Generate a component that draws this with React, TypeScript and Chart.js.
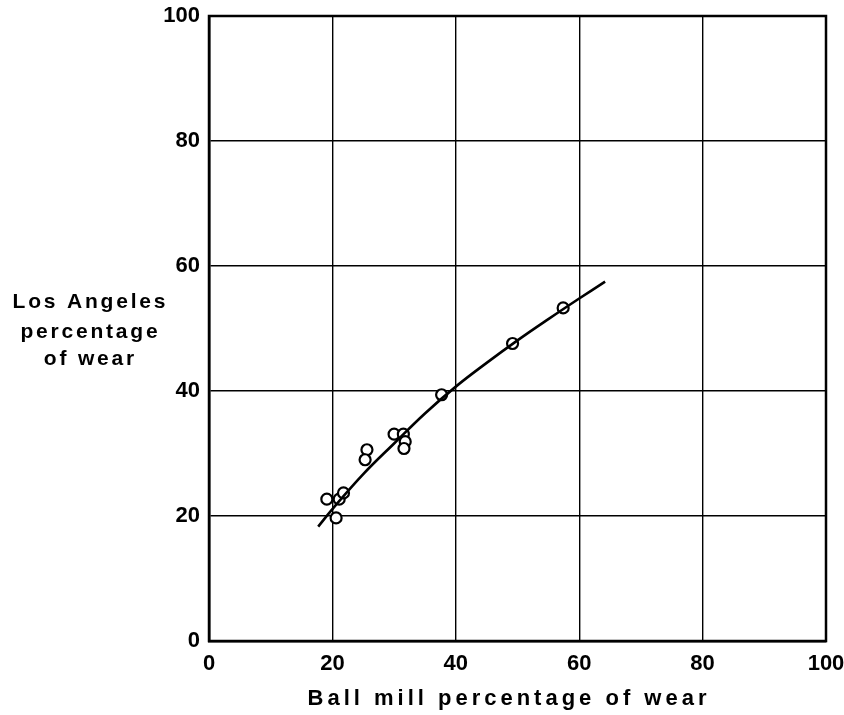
import React, { useEffect, useRef } from "react";
import { Chart, registerables } from "chart.js";

Chart.register(...registerables);

const pointX = [19.1, 21.1, 21.8, 20.6, 25.6, 25.3, 30.0, 31.5, 31.8, 31.6, 37.7, 49.2, 57.4];
const pointY = [22.7, 22.7, 23.7, 19.7, 30.6, 29.0, 33.1, 33.1, 31.9, 30.8, 39.4, 47.6, 53.3];

const curveX = [17.7, 20, 25, 30, 35, 40, 45, 50, 55, 60, 64.2];
const curveY = [18.3, 21.1, 26.7, 31.6, 36.4, 40.7, 44.5, 48.1, 51.5, 54.8, 57.5];

const xTitle = "Ball mill percentage of wear";
const yTitleLines = ["Los Angeles", "percentage", "of wear"];

const FONT = "'Liberation Sans', Arial, sans-serif";

const titlePlugin = {
  id: "titles",
  afterDraw(chart: any) {
    const { ctx, chartArea } = chart;
    ctx.save();
    ctx.strokeStyle = "#000";
    ctx.lineWidth = 2.5;
    ctx.strokeRect(chartArea.left, chartArea.top, chartArea.right - chartArea.left, chartArea.bottom - chartArea.top);

    const drawSpaced = (text: string, cx: number, baseline: number, size: number, ls: number) => {
      ctx.font = `bold ${size}px ${FONT}`;
      (ctx as any).letterSpacing = `${ls}px`;
      ctx.textAlign = "left";
      ctx.textBaseline = "alphabetic";
      ctx.fillStyle = "#000";
      const w = ctx.measureText(text).width - ls;
      ctx.fillText(text, cx - w / 2, baseline);
    };
    drawSpaced(xTitle, 507, 705, 22, 4.0);
    const baselines = [308, 338, 365];
    yTitleLines.forEach((t, i) => drawSpaced(t, 89, baselines[i], 21, 2.8));
    ctx.restore();
  },
};

export default function App() {
  const ref = useRef<HTMLCanvasElement | null>(null);
  useEffect(() => {
    if (!ref.current) return;
    const chart = new Chart(ref.current, {
      type: "scatter",
      data: {
        datasets: [
          {
            type: "line",
            data: curveX.map((x, i) => ({ x, y: curveY[i] })),
            borderColor: "#000",
            borderWidth: 2.6,
            pointRadius: 0,
            tension: 0.4,
            fill: false,
          } as any,
          {
            data: pointX.map((x, i) => ({ x, y: pointY[i] })),
            pointRadius: 5.5,
            pointBorderWidth: 2.2,
            borderColor: "#000",
            backgroundColor: "#fff",
            pointBackgroundColor: "#fff",
            pointBorderColor: "#000",
          },
        ],
      },
      plugins: [titlePlugin],
      options: {
        responsive: false,
        animation: false,
        layout: { padding: { top: 16, right: 18, left: 0, bottom: 0 } },
        plugins: { legend: { display: false }, tooltip: { enabled: false } },
        scales: {
          x: {
            type: "linear",
            min: 0,
            max: 100,
            ticks: { stepSize: 20, color: "#000", font: { family: FONT, size: 22, weight: "bold" }, padding: 10 },
            grid: { color: "#000", lineWidth: 1.4, drawTicks: false },
            border: { color: "#000", width: 2.5 },
            afterFit: (s: any) => {
              s.height = 74;
              s.paddingLeft = 0;
              s.paddingRight = 0;
            },
          },
          y: {
            type: "linear",
            min: 0,
            max: 100,
            ticks: { stepSize: 20, color: "#000", font: { family: FONT, size: 22, weight: "bold" }, padding: 9 },
            grid: { color: "#000", lineWidth: 1.4, drawTicks: false },
            border: { color: "#000", width: 2.5 },
            afterFit: (s: any) => {
              s.width = 209;
              s.paddingTop = 0;
              s.paddingBottom = 0;
            },
          },
        },
      },
    });
    return () => chart.destroy();
  }, []);
  return (
    <div style={{ position: "absolute", left: 0, top: 0, width: 844, height: 715, background: "#fff" }}>
      <canvas ref={ref} width={844} height={715} />
    </div>
  );
}
